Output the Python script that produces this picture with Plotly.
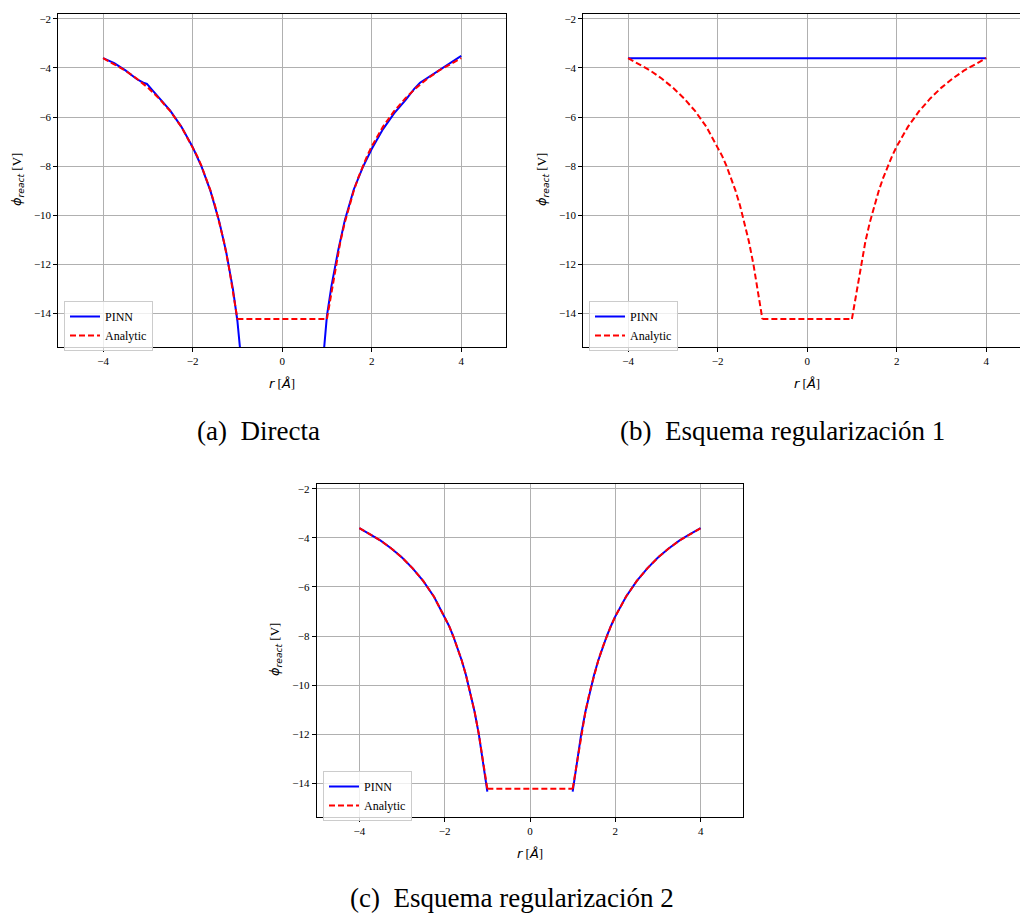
import plotly.graph_objects as go

# ---------------- data ----------------
r_an_left = [-4.0, -3.75, -3.5, -3.25, -3.0, -2.75, -2.5, -2.25, -2.0, -1.9, -1.8, -1.7, -1.6, -1.5,
             -1.4, -1.3, -1.2, -1.1, -1.05, -1.0]
phi_an_left = [-3.60, -3.84, -4.11, -4.43, -4.80, -5.24, -5.76, -6.40, -7.20, -7.58, -8.00, -8.47, -9.00, -9.60,
               -10.29, -11.08, -12.00, -13.09, -13.71, -14.23]
r_an_mid = [-1.0, 1.0]
phi_an_mid = [-14.23, -14.23]
r_an_right = [1.0, 1.05, 1.1, 1.2, 1.3, 1.4, 1.5, 1.6, 1.7, 1.8, 1.9, 2.0, 2.25, 2.5, 2.75, 3.0,
              3.25, 3.5, 3.75, 4.0]
phi_an_right = [-14.23, -13.71, -13.09, -12.00, -11.08, -10.29, -9.60, -9.00, -8.47, -8.00, -7.58, -7.20, -6.40,
                -5.76, -5.24, -4.80, -4.43, -4.11, -3.84, -3.60]

# (a) Directa - PINN
r_a_left = [-4.0, -3.75, -3.5, -3.25, -3.1, -3.02, -2.9, -2.75, -2.5, -2.25, -2.0, -1.8, -1.6, -1.4,
            -1.25, -1.1, -1.0, -0.9]
phi_a_left = [-3.60, -3.80, -4.10, -4.45, -4.60, -4.65, -4.90, -5.22, -5.74, -6.40, -7.22, -8.02, -9.02, -10.30,
              -11.50, -13.00, -14.30, -16.20]
r_a_right = [0.9, 1.0, 1.1, 1.25, 1.4, 1.6, 1.8, 2.0, 2.25, 2.5, 2.75, 2.95, 3.08, 3.25, 3.5, 3.75, 4.0]
phi_a_right = [-16.20, -14.10, -12.90, -11.45, -10.20, -8.95, -8.05, -7.30, -6.50, -5.85, -5.32, -4.85, -4.60,
               -4.40, -4.12, -3.80, -3.51]

# (b) Esquema regularizacion 1 - PINN
r_b = [-4.0, -2.0, 0.0, 2.0, 4.0]
phi_b = [-3.60, -3.60, -3.60, -3.60, -3.60]

# (c) Esquema regularizacion 2 - PINN
r_c_left = [-4.0, -3.75, -3.5, -3.25, -3.0, -2.75, -2.5, -2.25, -2.0, -1.9, -1.8, -1.7, -1.6, -1.5,
            -1.4, -1.3, -1.2, -1.1, -1.05, -1.0]
phi_c_left = [-3.60, -3.84, -4.11, -4.43, -4.80, -5.24, -5.76, -6.40, -7.20, -7.58, -8.00, -8.47, -9.00, -9.60,
              -10.29, -11.08, -12.00, -13.09, -13.71, -14.35]
r_c_right = [1.0, 1.05, 1.1, 1.2, 1.3, 1.4, 1.5, 1.6, 1.7, 1.8, 1.9, 2.0, 2.25, 2.5, 2.75, 3.0,
             3.25, 3.5, 3.75, 4.0]
phi_c_right = [-14.35, -13.71, -13.09, -12.00, -11.08, -10.29, -9.60, -9.00, -8.47, -8.00, -7.58, -7.20, -6.40,
               -5.76, -5.24, -4.80, -4.43, -4.11, -3.84, -3.60]

x_ticks = [-4, -2, 0, 2, 4]
x_tick_text = ["\u22124", "\u22122", "0", "2", "4"]
y_ticks = [-2, -4, -6, -8, -10, -12, -14]
y_tick_text = ["\u22122", "\u22124", "\u22126", "\u22128", "\u221210", "\u221212", "\u221214"]
captions = ["(a)  Directa", "(b)  Esquema regularización 1", "(c)  Esquema regularización 2"]

# ---------------- figure ----------------
BLUE = "#0000ff"
RED = "#ff0000"
SERIF = "Liberation Serif"

fig = go.Figure()


def join(xs1, ys1, xs2, ys2):
    return xs1 + [None] + xs2, ys1 + [None] + ys2


an_x = r_an_left + [None] + r_an_mid + [None] + r_an_right
an_y = phi_an_left + [None] + phi_an_mid + [None] + phi_an_right

panels = [
    ("x", "y", "legend", join(r_a_left, phi_a_left, r_a_right, phi_a_right)),
    ("x2", "y2", "legend2", (r_b, phi_b)),
    ("x3", "y3", "legend3", join(r_c_left, phi_c_left, r_c_right, phi_c_right)),
]

for xa, ya, lg, (px, py) in panels:
    fig.add_trace(go.Scatter(x=px, y=py, mode="lines", name="PINN",
                             line=dict(color=BLUE, width=2), xaxis=xa, yaxis=ya,
                             legend=lg, connectgaps=False))
    fig.add_trace(go.Scatter(x=an_x, y=an_y, mode="lines", name="Analytic",
                             line=dict(color=RED, width=2, dash="6px,3px"),
                             xaxis=xa, yaxis=ya, legend=lg, connectgaps=False))

W, H = 1020, 915


def px_x(v):
    return v / W


def px_y(v):
    return 1 - v / H


axis_common = dict(showgrid=True, gridcolor="#b0b0b0", gridwidth=1,
                   showline=True, linecolor="black", linewidth=1,
                   ticks="outside", ticklen=4, tickcolor="black", tickwidth=1,
                   tickfont=dict(family=SERIF, size=11, color="black"),
                   zeroline=False, fixedrange=True)

yrange = [-15.37, -1.80]

layout_axes = {
    "xaxis": dict(domain=[px_x(58.3), px_x(506)], range=[-5, 5], anchor="y", mirror=True),
    "yaxis": dict(domain=[px_y(347), px_y(14)], range=yrange, anchor="x", mirror=True),
    "xaxis2": dict(domain=[px_x(583.3), 1.0], range=[-5, -5 + (1020 - 583.3) / 44.77], anchor="y2", mirror=True),
    "yaxis2": dict(domain=[px_y(347), px_y(14)], range=yrange, anchor="x2", mirror=False),
    "xaxis3": dict(domain=[px_x(316.7), px_x(743.3)], range=[-5, 5], anchor="y3", mirror=True),
    "yaxis3": dict(domain=[px_y(816.7), px_y(484)], range=yrange, anchor="x3", mirror=True),
}
for k, v in layout_axes.items():
    d = dict(axis_common)
    d.update(v)
    if k.startswith("x"):
        d.update(tickvals=x_ticks, ticktext=x_tick_text)
    else:
        d.update(tickvals=y_ticks, ticktext=y_tick_text)
    fig.update_layout({k: d})

legend_common = dict(bgcolor="rgba(255,255,255,0.8)", bordercolor="#cccccc", borderwidth=1,
                     font=dict(family=SERIF, size=12, color="black"),
                     xanchor="left", yanchor="top", tracegroupgap=0, itemwidth=30)
fig.update_layout(
    legend=dict(legend_common, x=px_x(64), y=px_y(301)),
    legend2=dict(legend_common, x=px_x(589), y=px_y(301)),
    legend3=dict(legend_common, x=px_x(323), y=px_y(771)),
)

ylab = ("<span style=\"font-family:'DejaVu Sans'\"><i>ϕ</i><sub><i>react</i></sub></span> [V]")
xlab = ("<span style=\"font-family:'DejaVu Sans'\"><i>r</i></span> [<span style=\"font-family:'DejaVu Sans'\"><i>Å</i></span>]")

annotations = []
# axis titles
for cx, cy in [(282, 383), (807, 383), (530, 853)]:
    annotations.append(dict(x=px_x(cx), y=px_y(cy), xref="paper", yref="paper", text=xlab,
                            showarrow=False, xanchor="center", yanchor="middle",
                            font=dict(family=SERIF, size=13, color="black")))
for cx, cy in [(17, 180), (542, 180), (275, 650)]:
    annotations.append(dict(x=px_x(cx), y=px_y(cy), xref="paper", yref="paper", text=ylab,
                            showarrow=False, xanchor="center", yanchor="middle", textangle=-90,
                            font=dict(family=SERIF, size=13, color="black")))
# captions
for (cx, cy), txt in zip([(258, 431), (782, 431), (512, 898)], captions):
    annotations.append(dict(x=px_x(cx), y=px_y(cy), xref="paper", yref="paper", text=txt,
                            showarrow=False, xanchor="center", yanchor="middle",
                            font=dict(family=SERIF, size=27, color="black")))

fig.update_layout(width=W, height=H, margin=dict(l=0, r=0, t=0, b=0),
                  paper_bgcolor="white", plot_bgcolor="white",
                  annotations=annotations, showlegend=True)

fig.write_html("out.html")
